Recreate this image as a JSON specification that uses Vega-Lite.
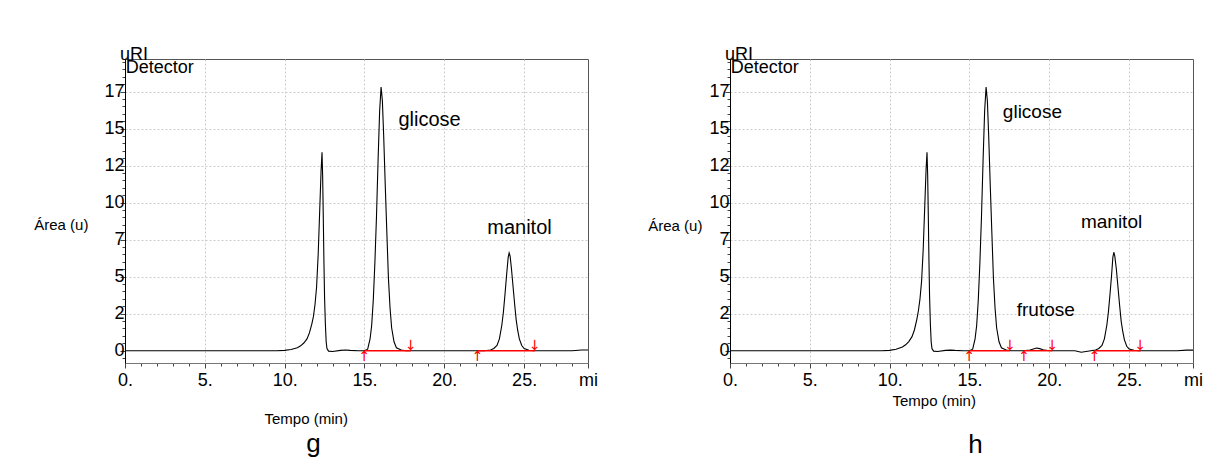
{
  "$schema": "https://vega.github.io/schema/vega-lite/v6.json",
  "background": "white",
  "padding": {"left": 33, "top": 45, "right": 5, "bottom": 5},
  "bounds": "flush",
  "spacing": 142,
  "config": {
    "font": "Liberation Sans",
    "view": {"stroke": "#555", "strokeWidth": 1},
    "axis": {
      "labelFont": "Liberation Sans", "labelFontSize": 18, "labelColor": "black",
      "titleFont": "Liberation Sans", "titleFontSize": 15, "titleFontWeight": "normal", "titleColor": "black",
      "gridColor": "#cccccc", "gridDash": [2, 2], "gridWidth": 1,
      "tickColor": "#444", "labelOverlap": false, "labelFlush": false
    },
    "title": {"font": "Liberation Sans", "fontWeight": "normal", "color": "black"}
  },
  "datasets": {
    "g_curve": [
      {"t": 0, "v": 0}, {"t": 5, "v": 0}, {"t": 9.5, "v": 0}, {"t": 10.0, "v": 0.02}, {"t": 10.4, "v": 0.08},
      {"t": 10.8, "v": 0.2}, {"t": 11.0, "v": 0.33}, {"t": 11.2, "v": 0.52}, {"t": 11.4, "v": 0.8},
      {"t": 11.55, "v": 1.2}, {"t": 11.7, "v": 1.8}, {"t": 11.8, "v": 2.3}, {"t": 11.9, "v": 3.1},
      {"t": 12.0, "v": 4.3}, {"t": 12.1, "v": 6.5}, {"t": 12.2, "v": 9.6}, {"t": 12.28, "v": 12.1},
      {"t": 12.34, "v": 13.4}, {"t": 12.38, "v": 11.8}, {"t": 12.42, "v": 9.0}, {"t": 12.46, "v": 6.0},
      {"t": 12.5, "v": 3.6}, {"t": 12.55, "v": 1.8}, {"t": 12.6, "v": 0.6}, {"t": 12.65, "v": 0.15},
      {"t": 12.75, "v": -0.03}, {"t": 13.0, "v": -0.05}, {"t": 13.5, "v": 0.02}, {"t": 13.8, "v": 0.05},
      {"t": 14.1, "v": 0.02}, {"t": 14.6, "v": 0}, {"t": 15.0, "v": 0}, {"t": 15.2, "v": 0.1},
      {"t": 15.35, "v": 0.8}, {"t": 15.45, "v": 1.7}, {"t": 15.55, "v": 3.4}, {"t": 15.65, "v": 5.9},
      {"t": 15.75, "v": 9.0}, {"t": 15.85, "v": 12.8}, {"t": 15.95, "v": 16.2}, {"t": 16.04, "v": 17.8},
      {"t": 16.12, "v": 16.9}, {"t": 16.2, "v": 14.6}, {"t": 16.3, "v": 11.2}, {"t": 16.4, "v": 8.0},
      {"t": 16.5, "v": 4.9}, {"t": 16.6, "v": 2.9}, {"t": 16.7, "v": 1.55}, {"t": 16.85, "v": 0.6},
      {"t": 17.0, "v": 0.2}, {"t": 17.3, "v": 0.05}, {"t": 17.6, "v": 0}, {"t": 22.5, "v": 0},
      {"t": 22.9, "v": 0.05}, {"t": 23.1, "v": 0.15}, {"t": 23.3, "v": 0.35}, {"t": 23.45, "v": 0.8},
      {"t": 23.6, "v": 1.7}, {"t": 23.7, "v": 2.6}, {"t": 23.8, "v": 3.8}, {"t": 23.9, "v": 5.1},
      {"t": 24.0, "v": 6.3}, {"t": 24.06, "v": 6.6}, {"t": 24.12, "v": 6.4}, {"t": 24.2, "v": 5.6},
      {"t": 24.3, "v": 4.4}, {"t": 24.4, "v": 3.2}, {"t": 24.5, "v": 2.1}, {"t": 24.6, "v": 1.35},
      {"t": 24.7, "v": 0.8}, {"t": 24.85, "v": 0.35}, {"t": 25.0, "v": 0.15}, {"t": 25.3, "v": 0.03},
      {"t": 25.6, "v": 0}, {"t": 28.0, "v": 0}, {"t": 28.6, "v": 0.05}, {"t": 29, "v": 0.05}
    ],
    "h_curve": [
      {"t": 0, "v": 0}, {"t": 5, "v": 0}, {"t": 9.5, "v": 0}, {"t": 10.0, "v": 0.02}, {"t": 10.4, "v": 0.1},
      {"t": 10.8, "v": 0.25}, {"t": 11.0, "v": 0.4}, {"t": 11.2, "v": 0.62}, {"t": 11.4, "v": 0.95},
      {"t": 11.55, "v": 1.4}, {"t": 11.7, "v": 2.1}, {"t": 11.8, "v": 2.7}, {"t": 11.9, "v": 3.5},
      {"t": 12.0, "v": 4.7}, {"t": 12.1, "v": 6.8}, {"t": 12.2, "v": 9.8}, {"t": 12.28, "v": 12.2},
      {"t": 12.34, "v": 13.4}, {"t": 12.38, "v": 11.9}, {"t": 12.42, "v": 9.2}, {"t": 12.46, "v": 6.2},
      {"t": 12.5, "v": 3.7}, {"t": 12.55, "v": 1.8}, {"t": 12.6, "v": 0.6}, {"t": 12.65, "v": 0.15},
      {"t": 12.75, "v": -0.03}, {"t": 13.0, "v": -0.05}, {"t": 13.5, "v": 0.02}, {"t": 13.8, "v": 0.04},
      {"t": 14.1, "v": 0.02}, {"t": 14.6, "v": 0}, {"t": 15.0, "v": 0}, {"t": 15.2, "v": 0.1},
      {"t": 15.35, "v": 0.8}, {"t": 15.45, "v": 1.7}, {"t": 15.55, "v": 3.4}, {"t": 15.65, "v": 5.9},
      {"t": 15.75, "v": 9.0}, {"t": 15.85, "v": 12.8}, {"t": 15.95, "v": 16.2}, {"t": 16.04, "v": 17.8},
      {"t": 16.12, "v": 16.9}, {"t": 16.2, "v": 14.6}, {"t": 16.3, "v": 11.2}, {"t": 16.4, "v": 8.0},
      {"t": 16.5, "v": 4.9}, {"t": 16.6, "v": 2.9}, {"t": 16.7, "v": 1.55}, {"t": 16.85, "v": 0.6},
      {"t": 17.0, "v": 0.2}, {"t": 17.3, "v": 0.05}, {"t": 17.6, "v": 0}, {"t": 18.4, "v": 0},
      {"t": 18.8, "v": 0.05}, {"t": 19.0, "v": 0.12}, {"t": 19.2, "v": 0.18}, {"t": 19.4, "v": 0.14},
      {"t": 19.6, "v": 0.06}, {"t": 19.9, "v": 0.01}, {"t": 20.2, "v": 0}, {"t": 21.6, "v": 0},
      {"t": 22.0, "v": -0.1}, {"t": 22.3, "v": -0.05}, {"t": 22.6, "v": 0},
      {"t": 22.9, "v": 0.05}, {"t": 23.1, "v": 0.15}, {"t": 23.3, "v": 0.35}, {"t": 23.45, "v": 0.8},
      {"t": 23.6, "v": 1.7}, {"t": 23.7, "v": 2.6}, {"t": 23.8, "v": 3.8}, {"t": 23.9, "v": 5.1},
      {"t": 23.98, "v": 6.3}, {"t": 24.04, "v": 6.65}, {"t": 24.1, "v": 6.4}, {"t": 24.2, "v": 5.5},
      {"t": 24.3, "v": 4.3}, {"t": 24.4, "v": 3.1}, {"t": 24.5, "v": 2.0}, {"t": 24.6, "v": 1.3},
      {"t": 24.7, "v": 0.75}, {"t": 24.85, "v": 0.3}, {"t": 25.0, "v": 0.12}, {"t": 25.3, "v": 0.03},
      {"t": 25.6, "v": 0}, {"t": 28.0, "v": 0}, {"t": 28.6, "v": 0.04}, {"t": 29, "v": 0.04}
    ],
    "g_base": [
      {"t": 15.0, "t2": 17.9, "v": 0},
      {"t": 22.09, "t2": 25.67, "v": 0}
    ],
    "h_base": [
      {"t": 15.0, "t2": 17.54, "v": 0},
      {"t": 18.42, "t2": 20.19, "v": 0},
      {"t": 22.84, "t2": 25.71, "v": 0}
    ],
    "g_labels": [
      {"label": "glicose", "t": 17.13, "v": 15.6},
      {"label": "manitol", "t": 22.69, "v": 8.26}
    ],
    "h_labels": [
      {"label": "glicose", "t": 17.09, "v": 16.13},
      {"label": "manitol", "t": 21.98, "v": 8.66},
      {"label": "frutose", "t": 17.96, "v": 2.74}
    ],
    "header": [
      {"label": "uRI", "t": -0.31, "v": 19.61},
      {"label": "Detector", "t": 0.04, "v": 18.75}
    ]
  },
  "hconcat": [
    {
      "width": 463,
      "height": 304,
      "title": {"text": "g", "orient": "bottom", "anchor": "middle", "frame": "group", "dx": -43, "offset": 5, "fontSize": 26},
      "encoding": {
        "x": {
          "field": "t", "type": "quantitative",
          "scale": {"domain": [0, 29], "nice": false, "zero": false},
          "axis": {
            "title": "Tempo (min)", "titleX": 180.7, "titleY": 55, "titleAlign": "center", "titleBaseline": "middle",
            "values": [0, 1, 2, 3, 4, 5, 6, 7, 8, 9, 10, 11, 12, 13, 14, 15, 16, 17, 18, 19, 20, 21, 22, 23, 24, 25, 26, 27, 28, 29],
            "labelExpr": "datum.value == 29 ? 'mi' : (datum.value % 5 == 0 ? datum.value + '.' : '')",
            "labelPadding": 3,
            "domainColor": "#777",
            "tickSize": {"condition": {"test": "datum.value % 5 == 0 || datum.value == 29", "value": 5}, "value": 3},
            "gridOpacity": {"condition": {"test": "datum.value % 5 == 0 && datum.value > 0 && datum.value < 29", "value": 1}, "value": 0}
          }
        },
        "y": {
          "field": "v", "type": "quantitative",
          "scale": {"domain": [-0.83, 19.7], "nice": false, "zero": false},
          "axis": {
            "title": "Área (u)", "titleAngle": 0, "titleAlign": "left", "titleBaseline": "middle", "titleX": -91.3, "titleY": 165,
            "values": [-0.5, 0, 0.5, 1, 1.5, 2, 2.5, 3, 3.5, 4, 4.5, 5, 5.5, 6, 6.5, 7, 7.5, 8, 8.5, 9, 9.5, 10, 10.5, 11, 11.5, 12, 12.5, 13, 13.5, 14, 14.5, 15, 15.5, 16, 16.5, 17, 17.5, 18, 18.5, 19, 19.5],
            "labelExpr": "datum.value >= 0 && datum.value <= 17.5 && datum.value % 2.5 == 0 ? '' + floor(datum.value) : ''",
            "labelPadding": -4,
            "domainColor": "black",
            "tickSize": {"condition": {"test": "datum.value % 2.5 == 0", "value": 5}, "value": 3},
            "gridOpacity": {"condition": {"test": "datum.value % 2.5 == 0 && datum.value > 0", "value": 1}, "value": 0}
          }
        }
      },
      "layer": [
        {"data": {"name": "g_curve"}, "mark": {"type": "line", "color": "black", "strokeWidth": 1.1}},
        {"data": {"name": "g_base"}, "mark": {"type": "rule", "color": "#ff0000", "strokeWidth": 1.5}, "encoding": {"x2": {"field": "t2"}}},
        {"data": {"name": "g_base"}, "mark": {"type": "text", "text": "↑", "color": "#ff0000", "font": "DejaVu Sans", "fontSize": 14, "baseline": "middle", "dy": 6}},
        {"data": {"name": "g_base"}, "mark": {"type": "text", "text": "↓", "color": "#ff0000", "font": "DejaVu Sans", "fontSize": 14, "baseline": "middle", "dy": -5}, "encoding": {"x": {"field": "t2", "type": "quantitative"}}},
        {"data": {"name": "g_labels"}, "mark": {"type": "text", "align": "left", "baseline": "middle", "fontSize": 20, "color": "black"}, "encoding": {"text": {"field": "label"}}},
        {"data": {"name": "header"}, "mark": {"type": "text", "align": "left", "baseline": "alphabetic", "fontSize": 18, "color": "black"}, "encoding": {"text": {"field": "label"}}}
      ]
    },
    {
      "width": 463,
      "height": 304,
      "title": {"text": "h", "orient": "bottom", "anchor": "middle", "frame": "group", "dx": 14, "offset": 24, "fontSize": 26},
      "encoding": {
        "x": {
          "field": "t", "type": "quantitative",
          "scale": {"domain": [0, 29], "nice": false, "zero": false},
          "axis": {
            "title": "Tempo (min)", "titleX": 203.7, "titleY": 37, "titleAlign": "center", "titleBaseline": "middle",
            "values": [0, 1, 2, 3, 4, 5, 6, 7, 8, 9, 10, 11, 12, 13, 14, 15, 16, 17, 18, 19, 20, 21, 22, 23, 24, 25, 26, 27, 28, 29],
            "labelExpr": "datum.value == 29 ? 'mi' : (datum.value % 5 == 0 ? datum.value + '.' : '')",
            "labelPadding": 3,
            "domainColor": "#777",
            "tickSize": {"condition": {"test": "datum.value % 5 == 0 || datum.value == 29", "value": 5}, "value": 3},
            "gridOpacity": {"condition": {"test": "datum.value % 5 == 0 && datum.value > 0 && datum.value < 29", "value": 1}, "value": 0}
          }
        },
        "y": {
          "field": "v", "type": "quantitative",
          "scale": {"domain": [-0.83, 19.7], "nice": false, "zero": false},
          "axis": {
            "title": "Área (u)", "titleAngle": 0, "titleAlign": "left", "titleBaseline": "middle", "titleX": -82.3, "titleY": 166,
            "values": [-0.5, 0, 0.5, 1, 1.5, 2, 2.5, 3, 3.5, 4, 4.5, 5, 5.5, 6, 6.5, 7, 7.5, 8, 8.5, 9, 9.5, 10, 10.5, 11, 11.5, 12, 12.5, 13, 13.5, 14, 14.5, 15, 15.5, 16, 16.5, 17, 17.5, 18, 18.5, 19, 19.5],
            "labelExpr": "datum.value >= 0 && datum.value <= 17.5 && datum.value % 2.5 == 0 ? '' + floor(datum.value) : ''",
            "labelPadding": -4,
            "domainColor": "black",
            "tickSize": {"condition": {"test": "datum.value % 2.5 == 0", "value": 5}, "value": 3},
            "gridOpacity": {"condition": {"test": "datum.value % 2.5 == 0 && datum.value > 0", "value": 1}, "value": 0}
          }
        }
      },
      "layer": [
        {"data": {"name": "h_curve"}, "mark": {"type": "line", "color": "black", "strokeWidth": 1.1}},
        {"data": {"name": "h_base"}, "mark": {"type": "rule", "color": "#ff0000", "strokeWidth": 1.5}, "encoding": {"x2": {"field": "t2"}}},
        {"data": {"name": "h_base"}, "mark": {"type": "text", "text": "↑", "color": "#ff0000", "font": "DejaVu Sans", "fontSize": 14, "baseline": "middle", "dy": 6}},
        {"data": {"name": "h_base"}, "mark": {"type": "text", "text": "↓", "color": "#ff0000", "font": "DejaVu Sans", "fontSize": 14, "baseline": "middle", "dy": -5}, "encoding": {"x": {"field": "t2", "type": "quantitative"}}},
        {"data": {"name": "h_labels"}, "mark": {"type": "text", "align": "left", "baseline": "middle", "fontSize": 19, "color": "black"}, "encoding": {"text": {"field": "label"}}},
        {"data": {"name": "header"}, "mark": {"type": "text", "align": "left", "baseline": "alphabetic", "fontSize": 18, "color": "black"}, "encoding": {"text": {"field": "label"}}}
      ]
    }
  ]
}
